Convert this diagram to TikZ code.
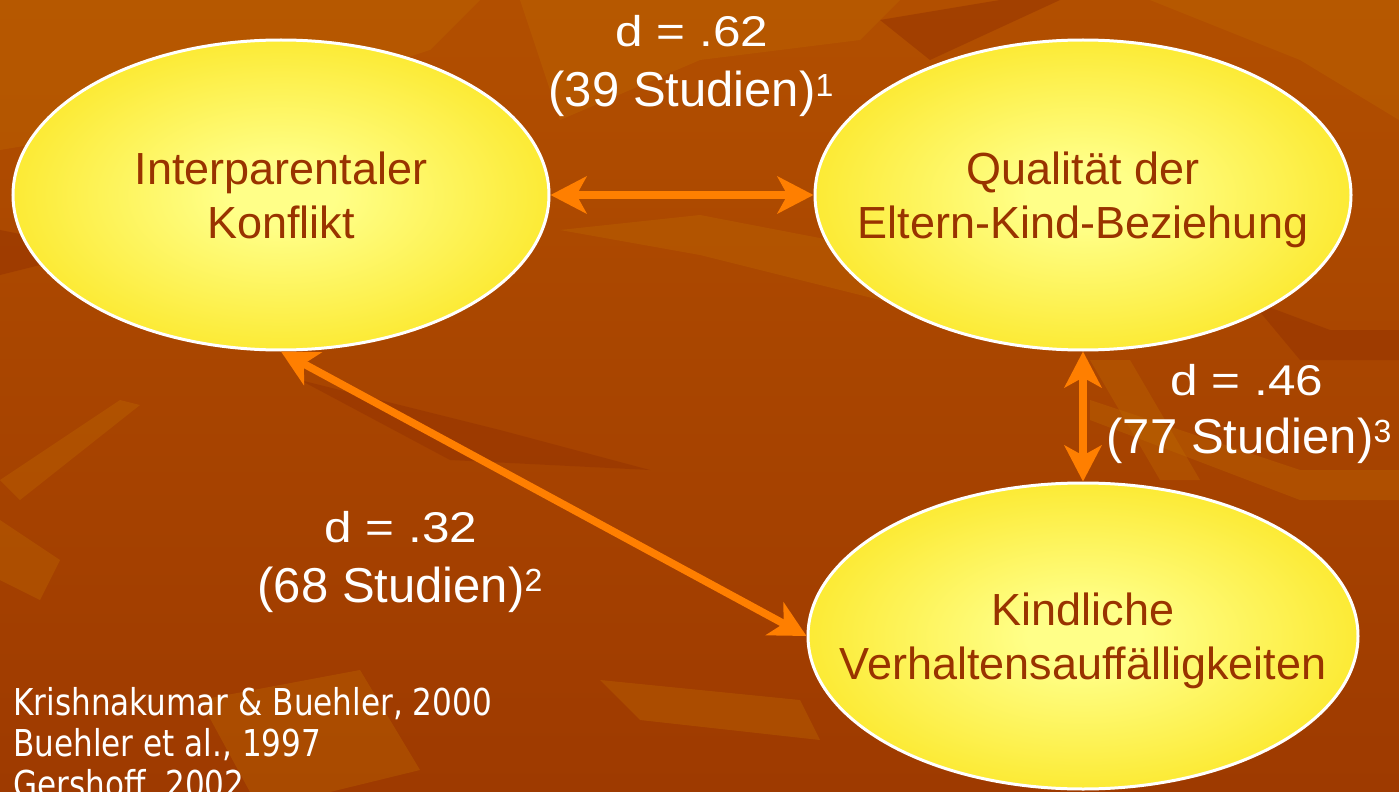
\documentclass[tikz,border=0pt]{standalone}
\usepackage{fontspec}
\usepackage{graphicx}
\setmainfont{Liberation Sans}
\newfontfamily\reffont[FakeStretch=0.84]{DejaVu Sans}
\usetikzlibrary{shapes.geometric,arrows.meta}
\definecolor{bgtop}{HTML}{B24F00}
\definecolor{bgbot}{HTML}{9E3A00}
\definecolor{streak}{HTML}{C06A00}
\definecolor{darkstreak}{HTML}{943200}
\definecolor{ylight}{HTML}{FFFF88}
\definecolor{ydark}{HTML}{FADF08}
\definecolor{txtbrown}{HTML}{993300}
\definecolor{arroworange}{HTML}{FF7F00}
\pgfdeclareradialshading{eggshade}{\pgfpoint{0bp}{0bp}}{color(0bp)=(ylight); color(5bp)=(ylight); color(36bp)=(ydark); color(50bp)=(ydark)}
\newcommand\supnum[1]{\raisebox{5.5pt}{\fontsize{16pt}{18pt}\selectfont #1}}
\begin{document}
\begin{tikzpicture}[x=0.5pt,y=-0.5pt,
  oval/.style={ellipse, shade, shading=eggshade, draw=white, line width=1.5pt,
    inner sep=0pt},
  ovaltext/.style={text=txtbrown, font=\fontsize{22.5pt}{27pt}\selectfont, align=center,
    inner sep=0pt, text depth=0pt},
  arr/.style={draw=arroworange, line width=3.8pt,
    {Stealth[length=18pt,width=18.5pt,inset=5pt]}-{Stealth[length=18pt,width=18.5pt,inset=5pt]}},
  labd/.style={text=white, font=\fontsize{21.5pt}{24pt}\selectfont, anchor=base, inner sep=0pt},
  labs/.style={text=white, font=\fontsize{24.5pt}{29pt}\selectfont, anchor=base, inner sep=0pt},
  reftext/.style={text=white, font=\reffont\fontsize{18.5pt}{20.5pt}\selectfont, anchor=base west, inner sep=0pt},
  lite/.style={fill=streak, opacity=0.35},
  dark/.style={fill=darkstreak, opacity=0.5}]
\useasboundingbox (0,0) rectangle (1399,792);
\clip (0,0) rectangle (1399,792);
% background
\shade[top color=bgtop, bottom color=bgbot] (0,0) rectangle (1399,792);
\fill[lite] (0,0) -- (480,0) -- (430,50) -- (250,110) -- (60,140) -- (0,150) -- cycle;
\fill[lite] (520,0) -- (900,0) -- (860,40) -- (700,60) -- (560,120) -- cycle;
\fill[lite] (560,230) -- (700,215) -- (830,240) -- (1000,320) -- (1050,350) -- (880,300) -- (700,255) -- cycle;
\fill[lite] (0,480) -- (120,400) -- (140,405) -- (20,500) -- cycle;
\fill[lite] (0,520) -- (60,560) -- (40,600) -- (0,580) -- cycle;
\fill[lite] (1090,360) -- (1130,360) -- (1200,480) -- (1160,480) -- cycle;
\fill[lite] (1090,400) -- (1300,470) -- (1399,470) -- (1399,500) -- (1300,500) -- (1090,420) -- cycle;
\fill[lite] (1150,0) -- (1399,0) -- (1399,120) -- (1300,60) -- cycle;
\fill[lite] (200,700) -- (360,670) -- (420,770) -- (330,792) -- (250,792) -- cycle;
\fill[lite] (600,680) -- (800,700) -- (820,740) -- (640,720) -- cycle;
\fill[dark] (0,230) -- (100,250) -- (0,275) -- cycle;
\fill[dark] (880,20) -- (1000,0) -- (1060,0) -- (930,60) -- cycle;
\fill[dark] (1250,300) -- (1330,330) -- (1399,330) -- (1399,360) -- (1300,360) -- cycle;
\fill[dark] (300,380) -- (500,430) -- (650,470) -- (450,460) -- cycle;
% ellipses
\node[oval, minimum width=268pt, minimum height=155pt] (e1) at (281,195) {};
\node[oval, minimum width=268pt, minimum height=155pt] (e2) at (1083,195) {};
\node[oval, minimum width=275pt, minimum height=153pt] (e3) at (1083,636) {};
\node[ovaltext] (t1) at (e1.center) {Interparentaler\\Konflikt};
\node[ovaltext] (t2) at (e2.center) {Qualität der\\Eltern-Kind-Beziehung};
\node[ovaltext] (t3) at (e3.center) {Kindliche\\Verhaltensauffälligkeiten};
% connectors
\draw[arr] (e1.east) -- (e2.west);
\draw[arr] (e2.south) -- (e3.north);
\draw[arr] (e1.south) -- (e3.west);
% labels
\node[labd] (d62) at (692,47) {\scalebox{1.15}[1]{d = .62}};
\node[labs] (s39) at (691,107) {(39 Studien)\supnum{1}};
\node[labd] (d46) at (1247,395) {\scalebox{1.15}[1]{d = .46}};
\node[labs] (s77) at (1249,453) {(77 Studien)\supnum{3}};
\node[labd] (d32) at (401,542) {\scalebox{1.15}[1]{d = .32}};
\node[labs] (s68) at (400,602) {(68 Studien)\supnum{2}};
% references
\node[reftext] (r1) at (13,715) {Krishnakumar \& Buehler, 2000};
\node[reftext] (r2) at (13,756) {Buehler et al., 1997};
\node[reftext] (r3) at (13,797) {Gershoff, 2002};
\end{tikzpicture}
\end{document}
